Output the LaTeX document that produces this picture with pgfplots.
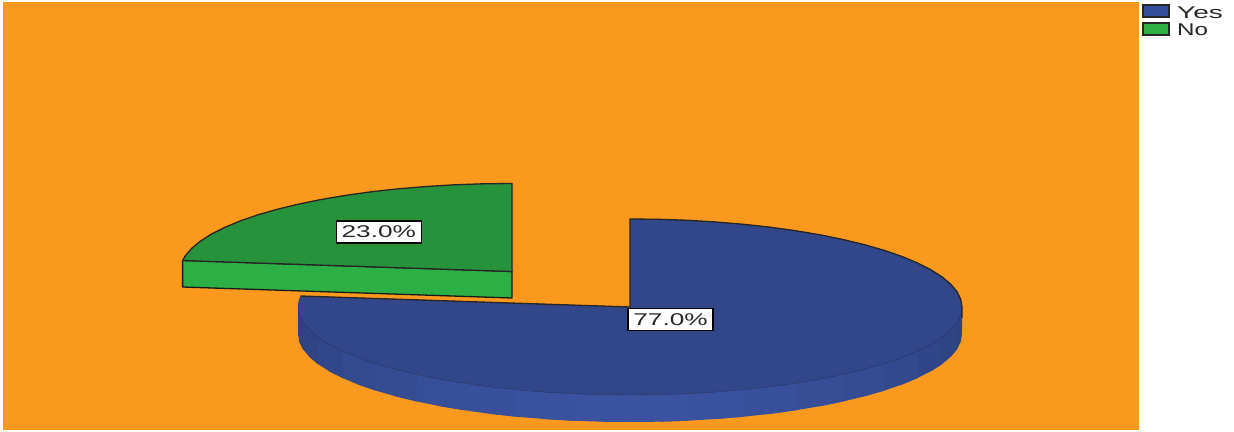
\documentclass[border=0pt]{standalone}
\usepackage{pgfplots}
\pgfplotsset{compat=1.18}
\usepackage{fontspec}
\setmainfont{Liberation Sans}

\definecolor{plotbg}{RGB}{251,152,30}
\definecolor{yestop}{RGB}{49,71,137}
\definecolor{yesedge}{RGB}{36,52,104}
\definecolor{rimdark}{RGB}{45,65,124}
\definecolor{rimlight}{RGB}{58,82,160}
\definecolor{notop}{RGB}{38,146,60}
\definecolor{noside}{RGB}{44,176,70}
\definecolor{keyyes}{RGB}{52,78,155}
\definecolor{keyno}{RGB}{44,176,70}
\definecolor{textgrey}{RGB}{40,40,40}

% one shaded facet of the pie's rim; each one runs on under the next, so no seam shows
\newcommand{\rimfacet}[2]{%
  \addplot[fill=rimlight!#1!rimdark, draw=none] coordinates {#2} -- cycle;}

\tikzset{
  pct/.style={fill=white, draw=black, line width=1.1pt, inner sep=0pt,
    minimum width=85pt, minimum height=22pt, text=textgrey, font=\fontsize{17}{20}\selectfont},
  keytext/.style={anchor=west, inner sep=0pt, text=textgrey, font=\fontsize{17}{19}\selectfont}
}

\begin{document}
\begin{tikzpicture}
\begin{axis}[
  scale only axis, width=1234pt, height=431pt,
  xmin=0, xmax=1234, ymin=0, ymax=431, y dir=reverse,
  hide axis, no markers
]
% page and plot area
\addplot[fill=white, draw=none] coordinates {(0,0) (1234,0) (1234,431) (0,431)} -- cycle;
\addplot[fill=plotbg, draw=none] coordinates {(3,2) (1139,2) (1139,429.5) (3,429.5)} -- cycle;

% Yes: shaded facets of the rim, right to left
\rimfacet{8}{(962,307) (957,322.3) (950.7,329.8) (950.7,356.8) (957,349.3) (960.7,341.7) (962,334)}
\rimfacet{18}{(957,322.3) (942,337.1) (930.9,344.2) (930.9,371.2) (942,364.1) (950.7,356.8) (957,349.3)}
\rimfacet{32}{(942,337.1) (917.5,351) (902,357.5) (902,384.5) (917.5,378) (930.9,371.2) (942,364.1)}
\rimfacet{48}{(917.5,351) (884.3,363.6) (864.8,369.2) (864.8,396.2) (884.3,390.6) (902,384.5) (917.5,378)}
\rimfacet{62}{(884.3,363.6) (843.4,374.4) (820.4,379.1) (820.4,406.1) (843.4,401.4) (864.8,396.2) (884.3,390.6)}
\rimfacet{75}{(843.4,374.4) (796,383.2) (770.3,386.8) (770.3,413.8) (796,410.2) (820.4,406.1) (843.4,401.4)}
\rimfacet{86}{(796,383.2) (743.5,389.7) (715.9,392) (715.9,419) (743.5,416.7) (770.3,413.8) (796,410.2)}
\rimfacet{94}{(743.5,389.7) (687.7,393.7) (658.9,394.7) (658.9,421.7) (687.7,420.7) (715.9,419) (743.5,416.7)}
\rimfacet{100}{(687.7,393.7) (630,395) (601.1,394.7) (601.1,421.7) (630,422) (658.9,421.7) (687.7,420.7)}
\rimfacet{100}{(630,395) (572.3,393.7) (544.1,392) (544.1,419) (572.3,420.7) (601.1,421.7) (630,422)}
\rimfacet{96}{(572.3,393.7) (516.5,389.7) (489.7,386.8) (489.7,413.8) (516.5,416.7) (544.1,419) (572.3,420.7)}
\rimfacet{88}{(516.5,389.7) (464,383.2) (439.6,379.1) (439.6,406.1) (464,410.2) (489.7,413.8) (516.5,416.7)}
\rimfacet{78}{(464,383.2) (416.6,374.4) (395.2,369.2) (395.2,396.2) (416.6,401.4) (439.6,406.1) (464,410.2)}
\rimfacet{65}{(416.6,374.4) (375.7,363.6) (358,357.5) (358,384.5) (375.7,390.6) (395.2,396.2) (416.6,401.4)}
\rimfacet{50}{(375.7,363.6) (342.5,351) (329.1,344.2) (329.1,371.2) (342.5,378) (358,384.5) (375.7,390.6)}
\rimfacet{35}{(342.5,351) (318,337.1) (309.3,329.8) (309.3,356.8) (318,364.1) (329.1,371.2) (342.5,378)}
\rimfacet{20}{(318,337.1) (303,322.3) (299.3,314.7) (299.3,341.7) (303,349.3) (309.3,356.8) (318,364.1)}
\rimfacet{8}{(303,322.3) (298,307) (298,334) (299.3,341.7) (303,349.3)}

% Yes: top face, 77.0% of the ellipse
\addplot[fill=yestop, draw=yesedge, line width=0.4pt] coordinates {
  (630,307) (630,219) (658.9,219.3) (687.7,220.3) (715.9,222) (743.5,224.3) (770.3,227.2)
  (796,230.8) (820.4,234.9) (843.4,239.6) (864.8,244.8) (884.3,250.4) (902,256.5)
  (917.5,263) (930.9,269.8) (942,276.9) (950.7,284.2) (957,291.7) (960.7,299.3) (962,307)
  (960.7,314.7) (957,322.3) (950.7,329.8) (942,337.1) (930.9,344.2) (917.5,351)
  (902,357.5) (884.3,363.6) (864.8,369.2) (843.4,374.4) (820.4,379.1) (796,383.2)
  (770.3,386.8) (743.5,389.7) (715.9,392) (687.7,393.7) (658.9,394.7) (630,395)
  (601.1,394.7) (572.3,393.7) (544.1,392) (516.5,389.7) (489.7,386.8) (464,383.2)
  (439.6,379.1) (416.6,374.4) (395.2,369.2) (375.7,363.6) (358,357.5) (342.5,351)
  (329.1,344.2) (318,337.1) (309.3,329.8) (303,322.3) (299.3,314.7) (298,307)
  (299.3,299.3) (300.6,296)
} -- cycle;
% Yes: dark edge along the upper arc and the two radii
\addplot[draw=black!85, line width=1.3pt, line join=round] coordinates {
  (300.6,296) (630,307) (630,219) (658.9,219.3) (687.7,220.3) (715.9,222) (743.5,224.3)
  (770.3,227.2) (796,230.8) (820.4,234.9) (843.4,239.6) (864.8,244.8) (884.3,250.4)
  (902,256.5) (917.5,263) (930.9,269.8) (942,276.9) (950.7,284.2) (957,291.7)
  (960.7,299.3) (962,307) (962,318)
};

% No: front face and top face, pulled out from the pie
\addplot[fill=noside, draw=black!90, line width=1.3pt, line join=round] coordinates {
  (182.6,260.5) (512,271.5) (512,298) (182.6,287)
} -- cycle;
\addplot[fill=notop, draw=black!85, line width=1.3pt, line join=round] coordinates {
  (182.6,260.5) (185,256.2) (191.3,248.7) (200,241.4) (211.1,234.3) (224.5,227.5)
  (240,221) (257.7,214.9) (277.2,209.3) (298.6,204.1) (321.6,199.4) (346,195.3)
  (371.7,191.7) (398.5,188.8) (426.1,186.5) (454.3,184.8) (483.1,183.8) (512,183.5)
  (512,271.5)
} -- cycle;

% percentage labels
\node[pct] at (axis cs:378.8,232) {\scalebox{1.54}[1]{23.0\%}};
\node[pct] at (axis cs:670.5,319.5) {\scalebox{1.54}[1]{77.0\%}};

% legend
\addplot[fill=keyyes, draw=black!85, line width=1.4pt] coordinates {(1143,5) (1169,5) (1169,17) (1143,17)} -- cycle;
\addplot[fill=keyno, draw=black!85, line width=1.4pt] coordinates {(1143,23) (1169,23) (1169,35) (1143,35)} -- cycle;
\node[keytext] at (axis cs:1177,12.5) {\scalebox{1.65}[1]{Yes}};
\node[keytext] at (axis cs:1177,30) {\scalebox{1.42}[1]{No}};
\end{axis}
\end{tikzpicture}
\end{document}
